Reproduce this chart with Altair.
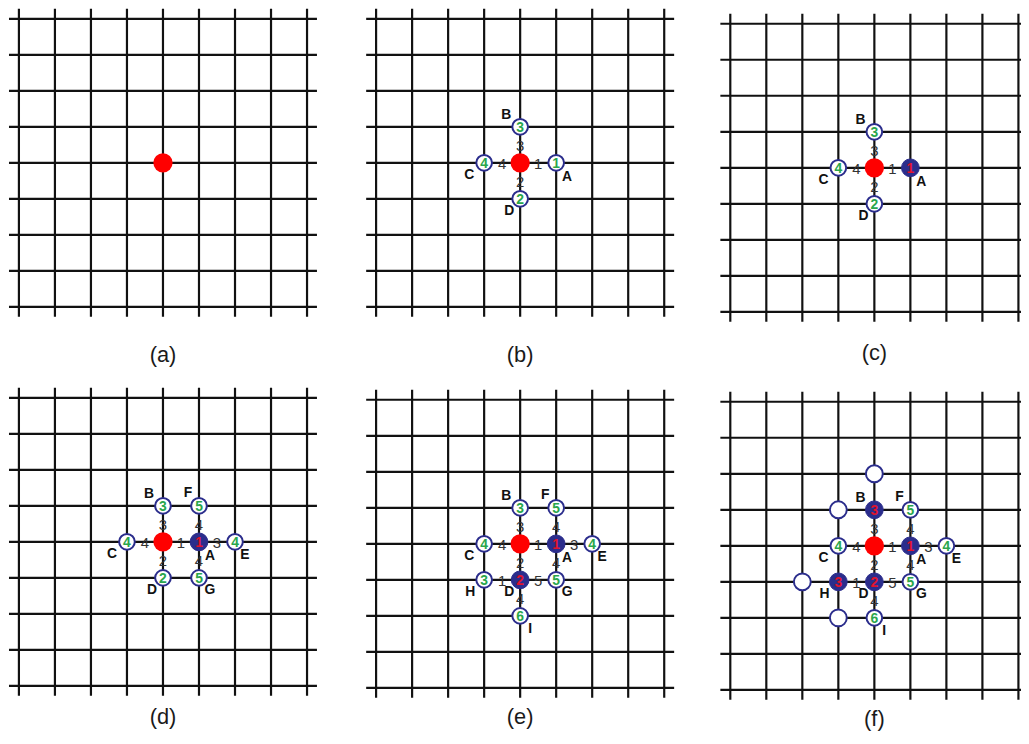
import altair as alt
import pandas as pd

# ---------------- data ----------------
PANELS = ["a", "b", "c", "d", "e", "f"]
N_LINES = 9            # 9 x 9 grid lines per panel

# node list: panel, column, row, state, cost shown, node name
node_panel = ["a",
              "b", "b", "b", "b", "b",
              "c", "c", "c", "c", "c",
              "d", "d", "d", "d", "d", "d", "d", "d",
              "e", "e", "e", "e", "e", "e", "e", "e", "e", "e",
              "f", "f", "f", "f", "f", "f", "f", "f", "f", "f", "f", "f", "f", "f"]
node_col = [4,
            4, 5, 4, 3, 4,
            4, 5, 4, 3, 4,
            4, 5, 4, 3, 4, 6, 5, 5,
            4, 5, 4, 3, 4, 6, 5, 5, 3, 4,
            4, 5, 4, 3, 4, 6, 5, 5, 3, 4, 4, 3, 2, 3]
node_row = [4,
            4, 4, 3, 4, 5,
            4, 4, 3, 4, 5,
            4, 4, 3, 4, 5, 4, 3, 5,
            4, 4, 3, 4, 5, 4, 3, 5, 5, 6,
            4, 4, 3, 4, 5, 4, 3, 5, 5, 6, 2, 3, 5, 6]
node_state = ["start",
              "start", "open", "open", "open", "open",
              "start", "closed", "open", "open", "open",
              "start", "closed", "open", "open", "open", "open", "open", "open",
              "start", "closed", "open", "open", "closed", "open", "open", "open", "open", "open",
              "start", "closed", "closed", "open", "closed", "open", "open", "open", "closed", "open",
              "empty", "empty", "empty", "empty"]
node_cost = ["",
             "", "1", "3", "4", "2",
             "", "1", "3", "4", "2",
             "", "1", "3", "4", "2", "4", "5", "5",
             "", "1", "3", "4", "2", "4", "5", "5", "3", "6",
             "", "1", "3", "4", "2", "4", "5", "5", "3", "6", "", "", "", ""]
node_name = ["",
             "", "A", "B", "C", "D",
             "", "A", "B", "C", "D",
             "", "A", "B", "C", "D", "E", "F", "G",
             "", "A", "B", "C", "D", "E", "F", "G", "H", "I",
             "", "A", "B", "C", "D", "E", "F", "G", "H", "I", "", "", "", ""]

# edge weights: panel, from (col,row), to (col,row), weight
edge_panel = ["b", "b", "b", "b",
              "c", "c", "c", "c",
              "d", "d", "d", "d", "d", "d", "d",
              "e", "e", "e", "e", "e", "e", "e", "e", "e", "e",
              "f", "f", "f", "f", "f", "f", "f", "f", "f", "f"]
edge_c1 = [4, 4, 4, 4,
           4, 4, 4, 4,
           4, 4, 4, 4, 5, 5, 5,
           4, 4, 4, 4, 5, 5, 5, 4, 4, 4,
           4, 4, 4, 4, 5, 5, 5, 4, 4, 4]
edge_r1 = [4, 4, 4, 4,
           4, 4, 4, 4,
           4, 4, 4, 4, 4, 4, 4,
           4, 4, 4, 4, 4, 4, 4, 5, 5, 5,
           4, 4, 4, 4, 4, 4, 4, 5, 5, 5]
edge_c2 = [5, 4, 4, 3,
           5, 4, 4, 3,
           5, 4, 4, 3, 5, 6, 5,
           5, 4, 4, 3, 5, 6, 5, 3, 5, 4,
           5, 4, 4, 3, 5, 6, 5, 3, 5, 4]
edge_r2 = [4, 5, 3, 4,
           4, 5, 3, 4,
           4, 5, 3, 4, 3, 4, 5,
           4, 5, 3, 4, 3, 4, 5, 5, 5, 6,
           4, 5, 3, 4, 3, 4, 5, 5, 5, 6]
edge_weight = ["1", "2", "3", "4",
               "1", "2", "3", "4",
               "1", "2", "3", "4", "4", "3", "4",
               "1", "2", "3", "4", "4", "3", "4", "1", "5", "4",
               "1", "2", "3", "4", "4", "3", "4", "1", "5", "4"]

captions = ["(a)", "(b)", "(c)", "(d)", "(e)", "(f)"]

# ---------------- layout (page pixels) ----------------
PANEL_X0 = {"a": 19, "b": 379, "c": 736, "d": 19, "e": 379, "f": 736}
PANEL_Y0 = {"a": 16, "b": 16, "c": 21, "d": 398, "e": 400, "f": 402}
CAPTION_Y = {"a": 355, "b": 355, "c": 353, "d": 720, "e": 720, "f": 722}
STEP = 36.3
OVER = 10
LETTER_OFFSET = {"A": (11, 14), "B": (-14, -12), "C": (-15, 12), "D": (-11, 12),
                 "E": (10, 13), "F": (-11, -13), "G": (11, 12), "H": (-14, 12),
                 "I": (10, 13)}

W, H = 1021, 728


def px(p, c):
    return PANEL_X0[p] + c * STEP


def py(p, r):
    return PANEL_Y0[p] + r * STEP


# grid lines
hrows, vrows = [], []
for p in PANELS:
    for i in range(N_LINES):
        hrows.append({"x": px(p, 0) - OVER, "x2": px(p, N_LINES - 1) + OVER, "y": py(p, i)})
        vrows.append({"x": px(p, i), "y": py(p, 0) - OVER, "y2": py(p, N_LINES - 1) + OVER})
hdf = pd.DataFrame(hrows)
vdf = pd.DataFrame(vrows)

nodes = pd.DataFrame({"panel": node_panel, "col": node_col, "row": node_row,
                      "state": node_state, "cost": node_cost, "name": node_name})
nodes["x"] = [px(p, c) for p, c in zip(nodes.panel, nodes.col)]
nodes["y"] = [py(p, r) for p, r in zip(nodes.panel, nodes.row)]

letters = nodes[nodes.name != ""].copy()
letters["x"] = letters.x + [LETTER_OFFSET[n][0] for n in letters.name]
letters["y"] = letters.y + [LETTER_OFFSET[n][1] for n in letters.name]

edges = pd.DataFrame({"panel": edge_panel, "c1": edge_c1, "r1": edge_r1,
                      "c2": edge_c2, "r2": edge_r2, "w": edge_weight})
edges["x"] = [px(p, (a + b) / 2) for p, a, b in zip(edges.panel, edges.c1, edges.c2)]
edges["y"] = [py(p, (a + b) / 2) for p, a, b in zip(edges.panel, edges.r1, edges.r2)]

caps = pd.DataFrame({"panel": PANELS, "text": captions})
caps["x"] = [px(p, 4) for p in PANELS]
caps["y"] = [CAPTION_Y[p] for p in PANELS]

xs = alt.Scale(domain=[8, 8 + W], nice=False, zero=False)
ys = alt.Scale(domain=[8, 8 + H], nice=False, zero=False, reverse=True)
X = lambda f="x": alt.X(f + ":Q", scale=xs, axis=None)
Y = lambda f="y": alt.Y(f + ":Q", scale=ys, axis=None)

FONT = "Liberation Sans"
NAVY = "#2b2d8c"
GREEN = "#2aa64c"
RED_NUM = "#e0142d"

hlines = alt.Chart(hdf).mark_rule(color="#111111", strokeWidth=2.2).encode(
    x=X("x"), x2="x2", y=Y("y"))
vlines = alt.Chart(vdf).mark_rule(color="#111111", strokeWidth=2.2).encode(
    x=X("x"), y=Y("y"), y2="y2")

edge_txt = alt.Chart(edges).mark_text(font=FONT, fontSize=15, color="#333333",
                                      align="center", baseline="middle", dy=1).encode(
    x=X(), y=Y(), text="w:N")

start = alt.Chart(nodes[nodes.state == "start"]).mark_point(
    shape="circle", filled=True, fill="#ff0000", opacity=1, size=380, strokeWidth=0).encode(x=X(), y=Y())
opened = alt.Chart(nodes[nodes.state == "open"]).mark_point(
    shape="circle", filled=True, fill="white", stroke=NAVY, strokeWidth=2, opacity=1, size=250).encode(x=X(), y=Y())
closed = alt.Chart(nodes[nodes.state == "closed"]).mark_point(
    shape="circle", filled=True, fill=NAVY, stroke=NAVY, strokeWidth=1, opacity=1, size=320).encode(x=X(), y=Y())
empty = alt.Chart(nodes[nodes.state == "empty"]).mark_point(
    shape="circle", filled=True, fill="white", stroke=NAVY, strokeWidth=2, opacity=1, size=290).encode(x=X(), y=Y())

open_num = alt.Chart(nodes[nodes.state == "open"]).mark_text(
    font=FONT, fontSize=14, fontWeight="bold", color=GREEN, align="center", baseline="middle", dy=1).encode(
    x=X(), y=Y(), text="cost:N")
closed_num = alt.Chart(nodes[nodes.state == "closed"]).mark_text(
    font=FONT, fontSize=14, fontWeight="bold", color=RED_NUM, align="center", baseline="middle", dy=1).encode(
    x=X(), y=Y(), text="cost:N")

letter_txt = alt.Chart(letters).mark_text(
    font=FONT, fontSize=14, fontWeight="bold", color="#111111", align="center", baseline="middle").encode(
    x=X(), y=Y(), text="name:N")

cap_txt = alt.Chart(caps).mark_text(
    font=FONT, fontSize=22, color="#1a1a1a", align="center", baseline="middle").encode(
    x=X(), y=Y(), text="text:N")

chart = alt.layer(hlines, vlines, edge_txt, start, opened, closed, empty,
                  open_num, closed_num, letter_txt, cap_txt).properties(
    width=W, height=H, padding=0, autosize=alt.AutoSizeParams(type="none"),
    background="white").configure_view(stroke=None)

chart.save("out.html", embed_options={"renderer": "svg", "actions": False})
